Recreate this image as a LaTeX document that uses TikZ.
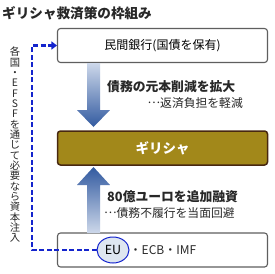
\documentclass[tikz,border=0pt]{standalone}
\usepackage{fontspec}
\newfontfamily\jp{Noto Sans CJK JP}
\usetikzlibrary{arrows.meta,shapes.geometric}

\definecolor{boxedge}{RGB}{95,95,95}
\definecolor{greecegold}{RGB}{162,136,26}
\definecolor{greeceedge}{RGB}{72,40,16}
\definecolor{linkblue}{RGB}{20,36,205}
\definecolor{eufill}{RGB}{222,230,240}
\definecolor{arrowlight}{RGB}{205,216,234}
\definecolor{arrowdark}{RGB}{50,90,160}
\definecolor{textgray}{RGB}{40,40,40}

\newcommand{\jpdots}{\raisebox{.32em}{…}}

\begin{document}
\begin{tikzpicture}[
    x=1pt, y=-1pt,
    box/.style={
        draw=boxedge,
        line width=1.1pt,
        fill=white,
        rounded corners=3pt,
        minimum width=210pt,
        minimum height=34pt,
        inner sep=0pt,
        font=\jp\fontsize{12}{14}\selectfont
    },
    hub/.style={
        box,
        draw=greeceedge,
        line width=1.5pt,
        fill=greecegold,
        text=white,
        font=\jp\bfseries\fontsize{13.5}{16}\selectfont
    },
    lead/.style={inner sep=0pt, text=textgray, font=\jp\bfseries\fontsize{12.8}{15}\selectfont},
    sub/.style={inner sep=0pt, text=textgray, font=\jp\fontsize{11.8}{14}\selectfont},
    eu/.style={
        ellipse,
        draw=linkblue,
        line width=1pt,
        fill=eufill,
        minimum width=32pt,
        minimum height=26pt,
        inner sep=0pt,
        font=\jp\fontsize{12.5}{14}\selectfont
    },
    link/.style={
        draw=linkblue,
        line width=2.8pt,
        dash pattern=on 5pt off 2.5pt,
        -{Triangle[width=8pt,length=5.5pt]}
    }
]
    \useasboundingbox[fill=white] (0,0) rectangle (275,273);

    \node[anchor=west, inner sep=0pt, text=textgray,
          font=\jp\bfseries\fontsize{13.6}{16}\selectfont] (title) at (2,13)
        {ギリシャ救済策の枠組み};

    \node[box] (bank) at (162.5,45.5) {民間銀行(国債を保有)};
    \node[hub] (greece) at (162.5,148) {ギリシャ};
    \node[box] (lenders) at (162.5,250) {};

    \node[eu] (eu) at (113,250) {EU};
    \node[anchor=west, inner sep=0pt, text=textgray,
          font=\jp\fontsize{12}{14}\selectfont] (others) at (eu.east)
        {・ECB・IMF};

    % aid flows
    \shade[top color=arrowlight, bottom color=arrowdark]
        (87,63) -- (100,63) -- (100,110) -- (110,110) -- (93.5,127)
        -- (77,110) -- (87,110) -- cycle;
    \shade[top color=arrowdark, bottom color=arrowlight]
        (93.5,167) -- (110,185) -- (100,185) -- (100,233) -- (87,233)
        -- (87,185) -- (77,185) -- cycle;

    \node[lead, anchor=west] (cut) at (107,87) {債務の元本削減を拡大};
    \node[sub, anchor=east] (relief) at (243,103) {\jpdots 返済負担を軽減};
    \node[lead, anchor=west] (loan) at (107,197) {80億ユーロを追加融資};
    \node[sub, anchor=west] (avoid) at (104,213) {\jpdots 債務不履行を当面回避};

    % capital injection
    \coordinate (turn) at (32,145);
    \draw[link] (eu.west) -| (turn) |- (bank.west);

    \node[align=center, inner sep=0pt, text=textgray,
          font=\jp\fontsize{10.3}{10.33}\selectfont] (note) at (15,145)
        {各\\国\\・\\E\\F\\S\\F\\を\\通\\じ\\て\\必\\要\\な\\ら\\資\\本\\注\\入};
\end{tikzpicture}
\end{document}
